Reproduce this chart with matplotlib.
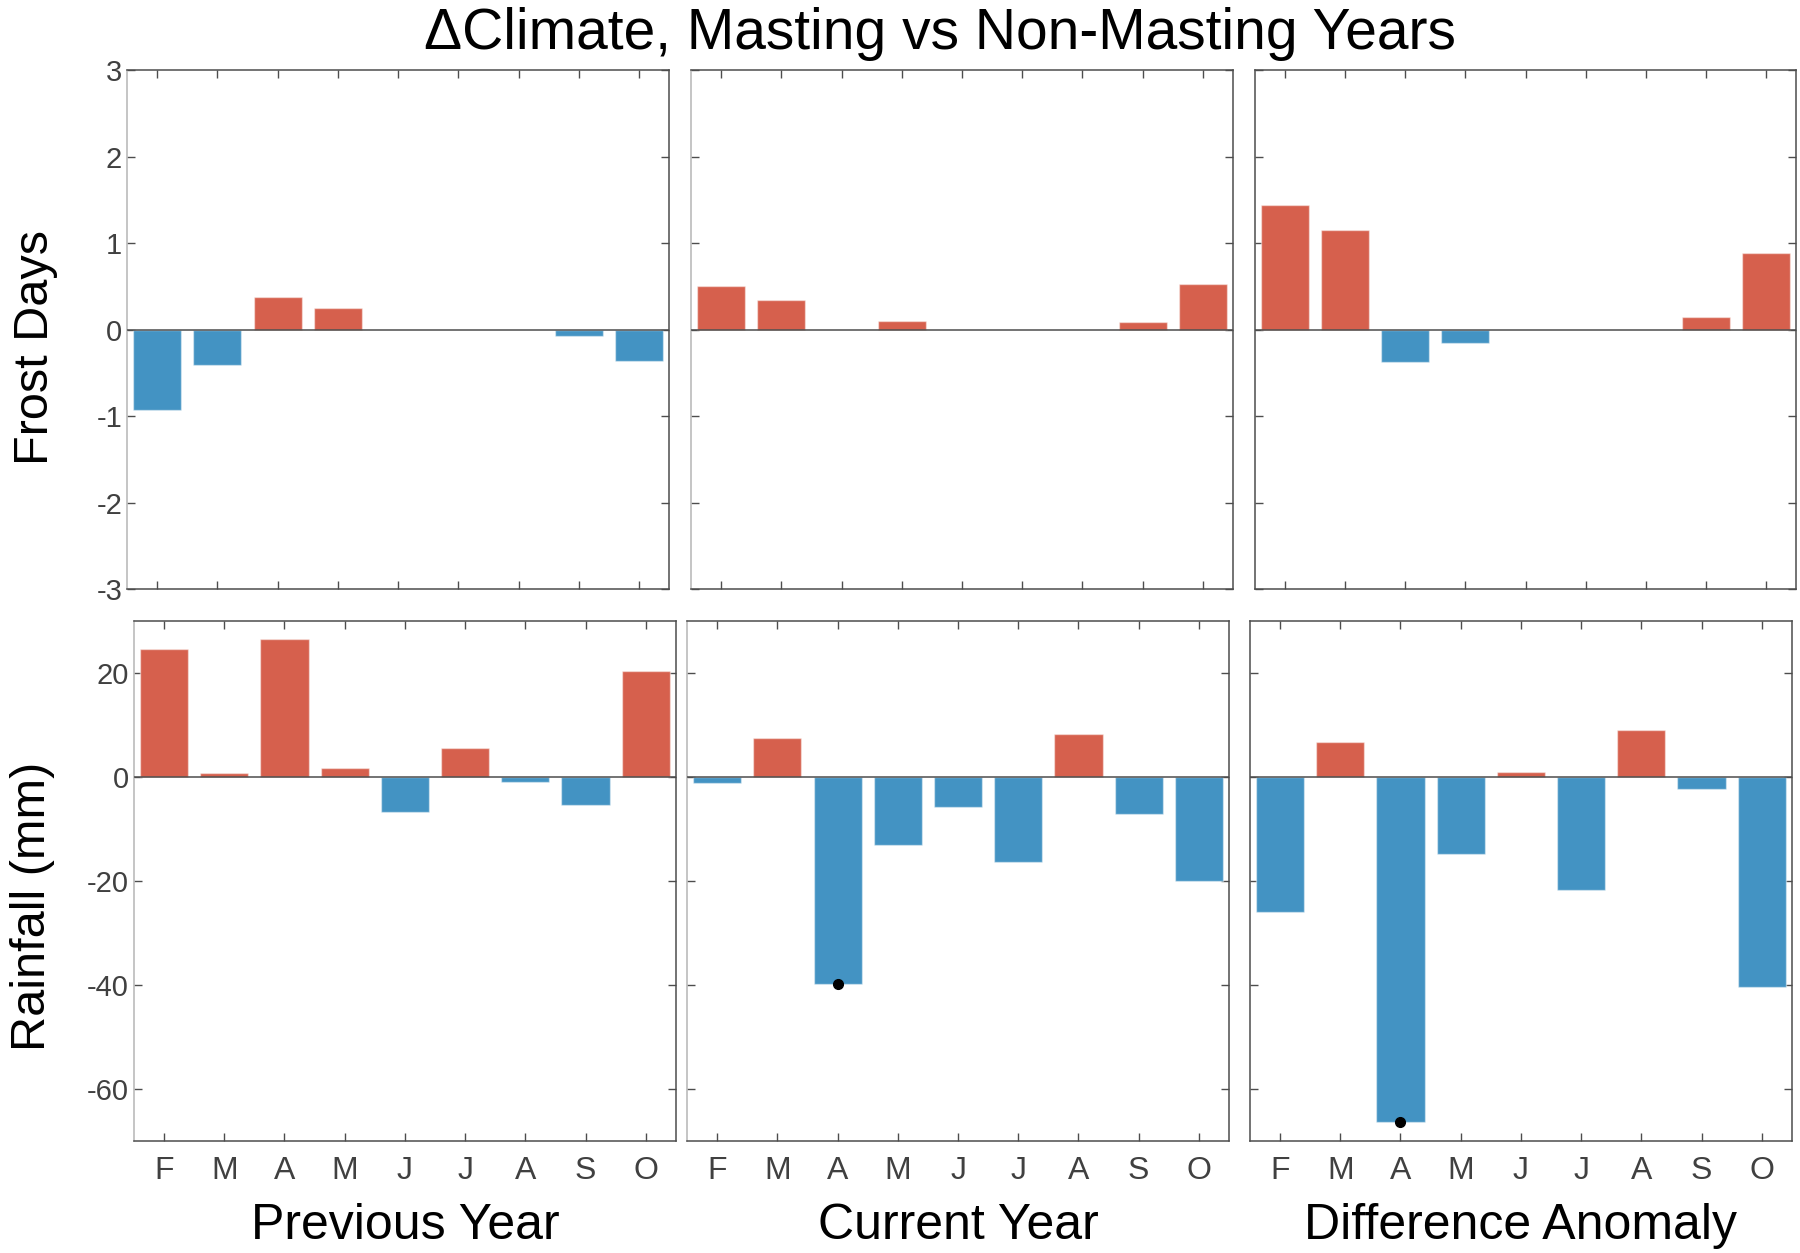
"""
Delta climate, masting vs non-masting years: frost days and rainfall bars
"""

import matplotlib
matplotlib.use("Agg")
import matplotlib.pyplot as plt
import numpy as np

plt.rcParams['font.family'] = ['Liberation Sans', 'DejaVu Sans']
plt.rcParams['axes.unicode_minus'] = False

# ==================== Data ====================

months = ["F", "M", "A", "M", "J", "J", "A", "S", "O"]
panel_titles = ["Previous Year", "Current Year", "Difference Anomaly"]

frost_previous = [-0.93, -0.41, 0.38, 0.25, 0.0, 0.0, 0.0, -0.075, -0.36]
frost_current = [0.50, 0.34, 0.0, 0.097, 0.0, 0.0, 0.0, 0.084, 0.53]
frost_difference = [1.44, 1.15, -0.38, -0.15, 0.0, 0.0, 0.0, 0.15, 0.885]

rain_previous = [24.6, 0.7, 26.5, 1.8, -6.7, 5.5, -1.0, -5.3, 20.3]
rain_current = [-1.1, 7.5, -39.9, -13.1, -5.8, -16.3, 8.2, -7.2, -20.0]
rain_difference = [-26.0, 6.7, -66.4, -14.9, 0.9, -21.7, 9.0, -2.3, -40.3]

# significant months (black dot at bar end): (panel index, month index)
rain_marked = [(1, 2), (2, 2)]

RED = "#d6604d"
BLUE = "#4393c3"
AXCOL = "#4d4d4d"
TICKCOL = "#404040"

# ==================== Figure ====================

fig = plt.figure(figsize=(18, 12.53), dpi=100)

top_rects = [[0.0706, 0.5299, 0.3011, 0.4142],
             [0.3839, 0.5299, 0.3011, 0.4142],
             [0.6972, 0.5299, 0.3006, 0.4142]]
bot_rects = [[0.0744, 0.0894, 0.3011, 0.4150],
             [0.3817, 0.0894, 0.3011, 0.4150],
             [0.6944, 0.0894, 0.3011, 0.4150]]

x = np.arange(1, len(months) + 1)


def style_axes(ax, col):
    for side, sp in ax.spines.items():
        sp.set_color(AXCOL)
        sp.set_linewidth(1.1)
    if col < 2:
        ax.spines['left'].set_color("#b5b5b5")
    ax.tick_params(direction='in', length=6, width=1, colors=AXCOL,
                   top=True, right=True, labelsize=21, labelcolor=TICKCOL)
    ax.tick_params(axis='x', labelsize=23)
    ax.set_xlim(0.5, 9.5)
    ax.set_xticks(x)


def draw_bars(ax, values):
    colors = [RED if v > 0 else BLUE for v in values]
    ax.bar(x, values, width=0.8, color=colors,
           edgecolor=(1, 1, 1, 0.45), linewidth=1.0, zorder=2)
    ax.axhline(0, color=AXCOL, linewidth=1.1, zorder=3)


frost_sets = [frost_previous, frost_current, frost_difference]
rain_sets = [rain_previous, rain_current, rain_difference]

for i in range(3):
    # ---- frost days ----
    ax = fig.add_axes(top_rects[i])
    draw_bars(ax, frost_sets[i])
    style_axes(ax, i)
    ax.set_ylim(-3, 3)
    ax.set_yticks([-3, -2, -1, 0, 1, 2, 3])
    ax.set_xticklabels([])
    if i == 0:
        ax.set_ylabel("Frost Days", fontsize=35, va='center')
        ax.yaxis.set_label_coords(-0.169, 0.466)
    else:
        ax.set_yticklabels([])

    # ---- rainfall ----
    ax = fig.add_axes(bot_rects[i])
    draw_bars(ax, rain_sets[i])
    style_axes(ax, i)
    ax.set_ylim(-70, 30)
    ax.set_yticks([-60, -40, -20, 0, 20])
    ax.set_xticklabels(months)
    ax.tick_params(axis='x', pad=11)
    for p, m in rain_marked:
        if p == i:
            ax.plot(x[m], rain_sets[i][m], 'o', color='black',
                    markersize=7, zorder=4, clip_on=False)
    ax.set_xlabel(panel_titles[i], fontsize=36, labelpad=12)
    if i == 0:
        ax.set_ylabel("Rainfall (mm)", fontsize=35, va='center')
        ax.yaxis.set_label_coords(-0.187, 0.452)
    else:
        ax.set_yticklabels([])

fig.text(0.522, 0.973, "\u0394Climate, Masting vs Non-Masting Years",
         fontsize=41, ha='center', va='center')

fig.savefig("out.png", dpi=100)
